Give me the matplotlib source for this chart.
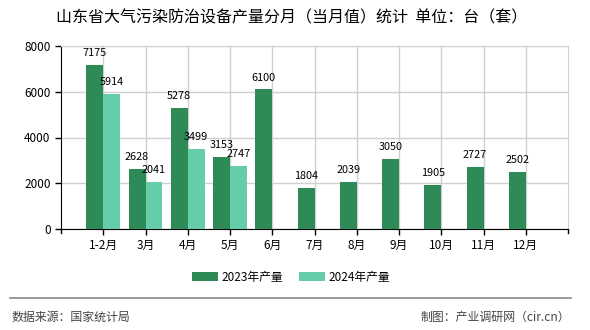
import numpy as np
import matplotlib
matplotlib.use("Agg")
import matplotlib.pyplot as plt
from matplotlib.lines import Line2D

plt.rcParams['font.family'] = ['Noto Sans CJK SC', 'DejaVu Sans']

months = ['1-2月', '3月', '4月', '5月', '6月', '7月', '8月', '9月', '10月', '11月', '12月']
y2023 = [7175, 2628, 5278, 3153, 6100, 1804, 2039, 3050, 1905, 2727, 2502]
y2024 = [5914, 2041, 3499, 2747]
c2023 = '#2E8B57'
c2024 = '#66CDAA'

fig = plt.figure(figsize=(5.9, 3.3), dpi=100)
ax = fig.add_axes([61/590, 1-229/330, (568-61)/590, (229-46)/330])

x = np.arange(len(months))
w = 0.40
ax.bar(x - w/2, y2023, w, color=c2023, label='2023年产量', zorder=3)
ax.bar(x[:len(y2024)] + w/2, y2024, w, color=c2024, label='2024年产量', zorder=3)

for i, v in enumerate(y2023):
    ax.annotate(str(v), (i - w/2, v), xytext=(0, 5), textcoords='offset points',
                ha='center', va='bottom', fontsize=7.8)
for i, v in enumerate(y2024):
    ax.annotate(str(v), (i + w/2, v), xytext=(0, 5), textcoords='offset points',
                ha='center', va='bottom', fontsize=7.8)

ax.set_xlim(-1, len(months))
ax.set_ylim(0, 8000)
ax.set_yticks([0, 2000, 4000, 6000, 8000])
ax.set_xticks(x)
ax.set_xticklabels(months)
ax.tick_params(axis='both', labelsize=8.5, length=4, width=1, color='black')
ax.grid(True, color='#d0d0d0', linewidth=1, zorder=0)
ax.spines['top'].set_color('#d0d0d0')
ax.spines['right'].set_color('#d0d0d0')
ax.spines['left'].set_color('black')
ax.spines['bottom'].set_color('black')

# end ticks on the x axis
for xe in ax.get_xlim():
    ax.plot([xe, xe], [0, -170], color='black', lw=1, clip_on=False)

fig.text(292/590, 1-18/330, '山东省大气污染防治设备产量分月（当月值）统计  单位：台（套）',
         ha='center', va='center', fontsize=11.5)

fig.legend(loc='center', bbox_to_anchor=(291/590, 1-277/330), ncol=2, frameon=False,
           fontsize=8.5, handlelength=2.2, handleheight=0.7, handletextpad=0.3,
           columnspacing=1.3)

fig.add_artist(Line2D([10/590, 571/590], [1-298/330, 1-298/330], color='#888888', lw=1.2))
fig.text(11/590, 1-317/330, '数据来源：国家统计局', ha='left', va='center', fontsize=8.6, color='#444444')
fig.text(570/590, 1-317/330, '制图：产业调研网（cir.cn）', ha='right', va='center', fontsize=8.6, color='#444444')

fig.savefig('out.png', dpi=100)
